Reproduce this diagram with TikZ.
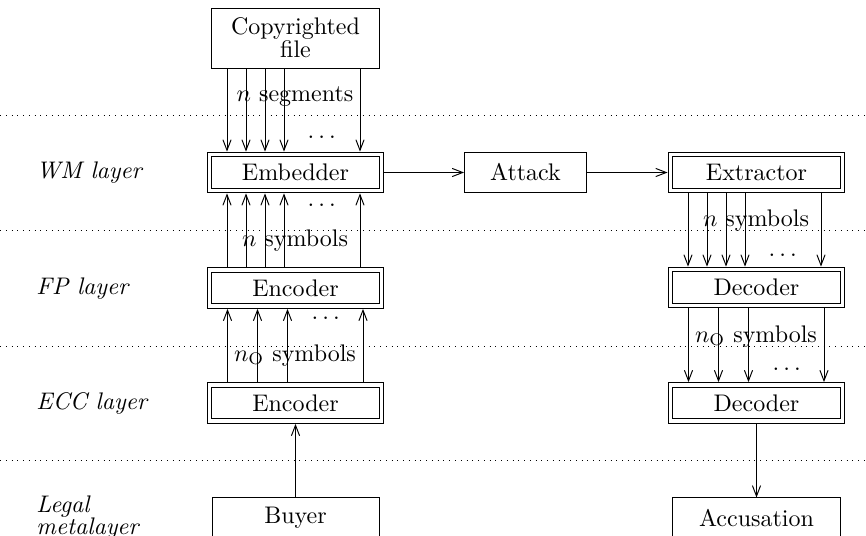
\documentclass[tikz,border=0pt]{standalone}
\usetikzlibrary{arrows.meta,calc}
\newcommand{\mydots}{.\kern1.67pt.\kern1.67pt.}
\begin{document}
\begin{tikzpicture}[x=0.4167pt,y=-0.4167pt,
  dbox/.style={draw, double, double distance=1.6pt, minimum width=71.7pt, minimum height=15pt, inner sep=1pt, outer sep=1.2pt},
  sbox/.style={draw, minimum height=16.7pt, inner sep=1pt},
  conn/.style={-{Straight Barb[length=4.4pt,width=3.4pt]}},
  sepline/.style={dotted},
  lay/.style={font=\itshape, anchor=base west, inner sep=0pt},
  lbl/.style={inner sep=0pt, anchor=base},
]
\useasboundingbox (0,0) rectangle (866,536);

% separators
\draw[sepline] (0,115) -- (866,115);
\draw[sepline] (0,230) -- (866,230);
\draw[sepline] (0,346) -- (866,346);
\draw[sepline] (0,460) -- (866,460);

% layer labels
\node[lay] (lwm) at (36,178) {WM layer};
\node[lay] (lfp) at (36,294) {FP layer};
\node[lay] (lecc) at (36,409) {ECC layer};
\node[font=\itshape, align=left, anchor=north west, inner sep=0pt] (llegal) at (36,495.3) {Legal\\[-3pt]metalayer};

% boxes
\node[sbox, minimum width=70.4pt, minimum height=25pt, align=center] (cf) at (295.5,38) {Copyrighted\\[-2.4pt]file};
\node[dbox] (emb) at (295.5,172.5) {Embedder};
\node[dbox] (fpenc) at (295.5,288) {Encoder};
\node[dbox] (eccenc) at (295.5,403) {Encoder};
\node[sbox, minimum width=69.6pt] (buyer) at (295.5,518) {Buyer};
\node[sbox, minimum width=50.8pt] (att) at (525.5,172.5) {Attack};
\node[dbox] (ext) at (756.5,172.5) {Extractor};
\node[dbox] (fpdec) at (756.5,287.5) {Decoder};
\node[dbox] (eccdec) at (756.5,403) {Decoder};
\node[sbox, minimum width=70pt] (acc) at (756.5,518) {Accusation};

% bundles
\foreach \o in {-68.5,-49.5,-30.5,-11.5,64.5} {
  \draw[conn] ($(cf.south)+(\o,0)$) -- ($(emb.north)+(\o,0)$);
  \draw[conn] ($(fpenc.north)+(\o,0)$) -- ($(emb.south)+(\o,0)$);
  \draw[conn] ($(ext.south)+(\o,0)$) -- ($(fpdec.north)+(\o,0)$);
}
\foreach \o in {-68,-38,-8,67.5} {
  \draw[conn] ($(eccenc.north)+(\o,0)$) -- ($(fpenc.south)+(\o,0)$);
  \draw[conn] ($(fpdec.south)+(\o,0)$) -- ($(eccdec.north)+(\o,0)$);
}

% single connectors
\draw[conn] (emb.east) -- (att.west);
\draw[conn] (att.east) -- (ext.west);
\draw[conn] (buyer.north) -- (eccenc.south);
\draw[conn] (eccdec.south) -- (acc.north);

% bundle labels
\node[lbl] (tseg) at (295,101) {$n$ segments};
\node[lbl] (tsym1) at (295,246) {$n$ symbols};
\node[lbl] (tsymo1) at (295,361) {$n_{\mathrm{O}}$ symbols};
\node[lbl] (tsym2) at (756,226) {$n$ symbols};
\node[lbl] (tsymo2) at (756,342) {$n_{\mathrm{O}}$ symbols};

% dots
\node[lbl] (d1) at (321.7,138.3) {\mydots};
\node[lbl] (d2) at (321.7,206.3) {\mydots};
\node[lbl] (d3) at (325.7,319.6) {\mydots};
\node[lbl] (d4) at (782.7,256.3) {\mydots};
\node[lbl] (d5) at (786.7,370.6) {\mydots};
\end{tikzpicture}
\end{document}
